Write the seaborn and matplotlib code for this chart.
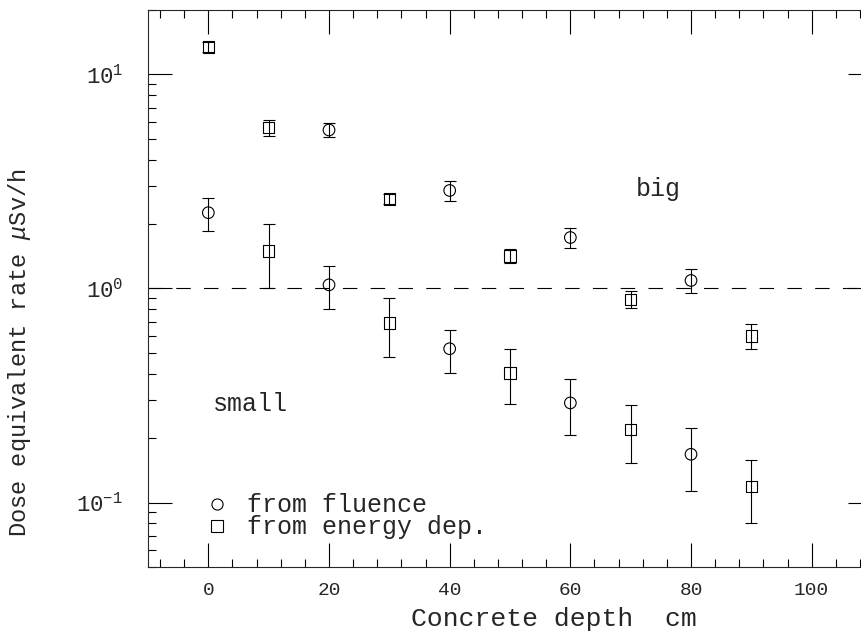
import matplotlib
matplotlib.use("Agg")
import matplotlib.pyplot as plt
from matplotlib.lines import Line2D
from matplotlib.ticker import LogLocator, MultipleLocator, NullFormatter
import numpy as np
import pandas as pd
import seaborn as sns

# --- data ---
depth = [0, 10, 20, 30, 40, 50, 60, 70, 80, 90]

# upper group ("big")
big_rate = [13.4, 5.65, 5.5, 2.62, 2.87, 1.42, 1.73, 0.89, 1.09, 0.60]
big_err = [0.7, 0.5, 0.4, 0.15, 0.3, 0.11, 0.19, 0.08, 0.14, 0.08]
big_method = ["energy", "energy", "fluence", "energy", "fluence",
              "energy", "fluence", "energy", "fluence", "energy"]

# lower group ("small")
small_rate = [2.26, 1.5, 1.04, 0.69, 0.523, 0.404, 0.292, 0.219, 0.168, 0.119]
small_err = [0.4, 0.5, 0.24, 0.21, 0.12, 0.115, 0.085, 0.066, 0.055, 0.039]
small_method = ["fluence", "energy", "fluence", "energy", "fluence",
                "energy", "fluence", "energy", "fluence", "energy"]

legend_labels = {"fluence": "from fluence", "energy": "from energy dep."}
markers = {"fluence": "o", "energy": "s"}

df = pd.concat([
    pd.DataFrame({"depth": depth, "rate": big_rate, "err": big_err,
                  "method": big_method, "group": "big"}),
    pd.DataFrame({"depth": depth, "rate": small_rate, "err": small_err,
                  "method": small_method, "group": "small"}),
], ignore_index=True)

sns.set_style("ticks")
plt.rcParams["font.family"] = ["Liberation Mono", "DejaVu Sans"]
plt.rcParams["mathtext.fontset"] = "custom"
plt.rcParams["mathtext.rm"] = "Liberation Mono"
plt.rcParams["mathtext.it"] = "Liberation Mono:italic"
plt.rcParams["axes.linewidth"] = 0.8

fig = plt.figure(figsize=(8.61, 6.39), dpi=100)
ax = fig.add_axes([0.1719, 0.1127, 0.8409, 0.8717])

ax.errorbar(df["depth"], df["rate"], yerr=df["err"], fmt="none",
            ecolor="black", elinewidth=0.8, capsize=4.5, capthick=0.8)
sns.scatterplot(data=df, x="depth", y="rate", style="method", markers=markers,
                s=70, facecolor="none", edgecolor="black", linewidth=0.8,
                color="black", legend=False, ax=ax, zorder=3)

ax.axhline(1.0, color="black", lw=0.8, ls=(0, (13, 12)))

ax.set_yscale("log")
ax.set_xlim(-10, 110)
ax.set_ylim(0.05, 20)
ax.xaxis.set_major_locator(MultipleLocator(20))
ax.xaxis.set_minor_locator(MultipleLocator(4))
ax.yaxis.set_major_locator(LogLocator(base=10, numticks=10))
ax.yaxis.set_minor_locator(LogLocator(base=10, subs=np.arange(2, 10), numticks=10))
ax.yaxis.set_minor_formatter(NullFormatter())

ax.tick_params(which="both", direction="in", top=True, right=True,
               width=0.8, color="black")
ax.tick_params(which="major", length=17)
ax.tick_params(which="minor", length=5.8)
ax.tick_params(axis="x", which="major", labelsize=14, pad=11)
ax.tick_params(axis="y", which="major", labelsize=16, pad=18)

ax.set_xlabel("Concrete depth  cm", fontsize=19)
ax.set_ylabel(r"Dose equivalent rate $\mu$Sv/h", fontsize=17)
ax.xaxis.set_label_coords(0.56, -0.072)
ax.yaxis.set_label_coords(-0.159, 0.384)

ax.text(70.8, 2.69, "big", fontsize=18, ha="left", va="baseline")
ax.text(0.8, 0.267, "small", fontsize=18, ha="left", va="baseline")

handles = [Line2D([], [], ls="none", marker=markers[m], markersize=8,
                  mfc="none", mec="black", mew=0.8, label=legend_labels[m])
           for m in ["fluence", "energy"]]
ax.legend(handles=handles, loc="upper left", bbox_to_anchor=(0.078, 0.132),
          frameon=False, fontsize=18, handlelength=1.0, handletextpad=0.72,
          labelspacing=-0.08, borderpad=0, borderaxespad=0)

fig.savefig("out.png", dpi=100)
